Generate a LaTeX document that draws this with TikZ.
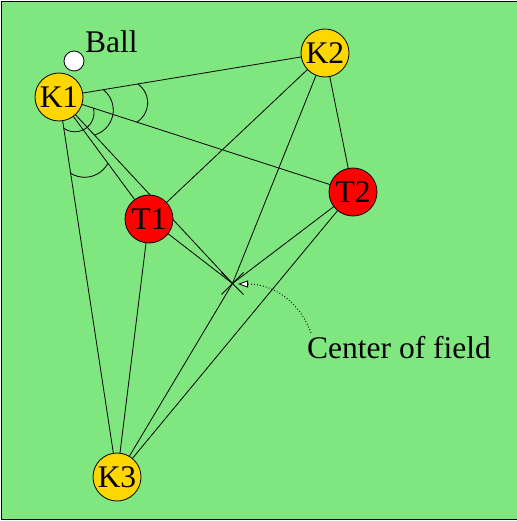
\documentclass[tikz,border=0pt]{standalone}
\usepackage{fontspec}
\setmainfont{Liberation Serif}
\usetikzlibrary{arrows.meta,shapes.misc}
\definecolor{fieldgreen}{RGB}{128,230,128}
\definecolor{keepyellow}{RGB}{255,215,0}
\definecolor{takered}{RGB}{255,0,0}
\pgfdeclarelayer{fieldlayer}
\pgfdeclarelayer{linklayer}
\pgfsetlayers{fieldlayer,linklayer,main}
\begin{document}
\begin{tikzpicture}[x=1pt,y=-1pt,
  player/.style={circle, draw=black, line width=0.8pt, minimum size=48pt, inner sep=0pt, font=\fontsize{31.5}{36}\selectfont},
  keeper/.style={player, fill=keepyellow},
  taker/.style={player, fill=takered},
  link/.style={draw=black, line width=0.8pt},
  anglearc/.style={draw=black, line width=0.8pt},
  lbl/.style={font=\fontsize{31.5}{36}\selectfont, inner sep=0pt, anchor=base west}]
\useasboundingbox (0,0) rectangle (516,521);
\begin{pgfonlayer}{fieldlayer}
\filldraw[fill=fieldgreen, draw=black, line width=1pt] (1.5,2) rectangle (519,519.5);
\end{pgfonlayer}

\node[keeper] (K1) at (59,97) {K1};
\node[keeper] (K2) at (325,53) {K2};
\node[keeper] (K3) at (117,477) {K3};
\node[taker] (T1) at (149,219) {T1};
\node[taker] (T2) at (353,192) {T2};
\node[circle, draw=black, fill=white, line width=0.8pt, minimum size=20pt, inner sep=0pt] (ball) at (74,61) {};
\node[lbl] (balllbl) at (85,53) {Ball};
\node[cross out, draw=black, line width=1pt, minimum size=21pt, inner sep=0pt] (X) at (232.5,283.5) {};
\node[lbl] (cflbl) at (307,358) {Center of field};

\begin{pgfonlayer}{linklayer}
\draw[link] (K1.center) -- (K2.center);
\draw[link] (K1.center) -- (T2.center);
\draw[link] (K1.center) -- (T1.center);
\draw[link] (K1.center) -- (X.center);
\draw[link] (K1.center) -- (K3.center);
\draw[link] (K2.center) -- (T1.center);
\draw[link] (K2.center) -- (T2.center);
\draw[link] (K2.center) -- (X.center);
\draw[link] (T1.center) -- (X.center);
\draw[link] (T1.center) -- (K3.center);
\draw[link] (T2.center) -- (X.center);
\draw[link] (T2.center) -- (K3.center);
\draw[link] (K3.center) -- (X.center);
% angle arcs at K1
\draw[anglearc] (137.7,83.94) arc[start angle=-55.8, end angle=58.8, radius=22.8];
\draw[anglearc] (103.3,89.66) arc[start angle=-52.1, end angle=74.3, radius=25.9];
\draw[anglearc] (93.54,108.18) arc[start angle=-13.3, end angle=125.1, radius=19.2];
\draw[anglearc] (107.9,163.3) arc[start angle=28.1, end angle=122.0, radius=26.4];
\end{pgfonlayer}

\coordinate (cfstart) at (311,333);
\coordinate (cftip) at (238,284);
\draw[line width=0.9pt, dash pattern=on 0.9pt off 2.1pt,
  -{Triangle[length=10pt, width=7pt, fill=white, line width=0.8pt]}]
  (cfstart) .. controls (298,298) and (270,284) .. (cftip);
\end{tikzpicture}
\end{document}
